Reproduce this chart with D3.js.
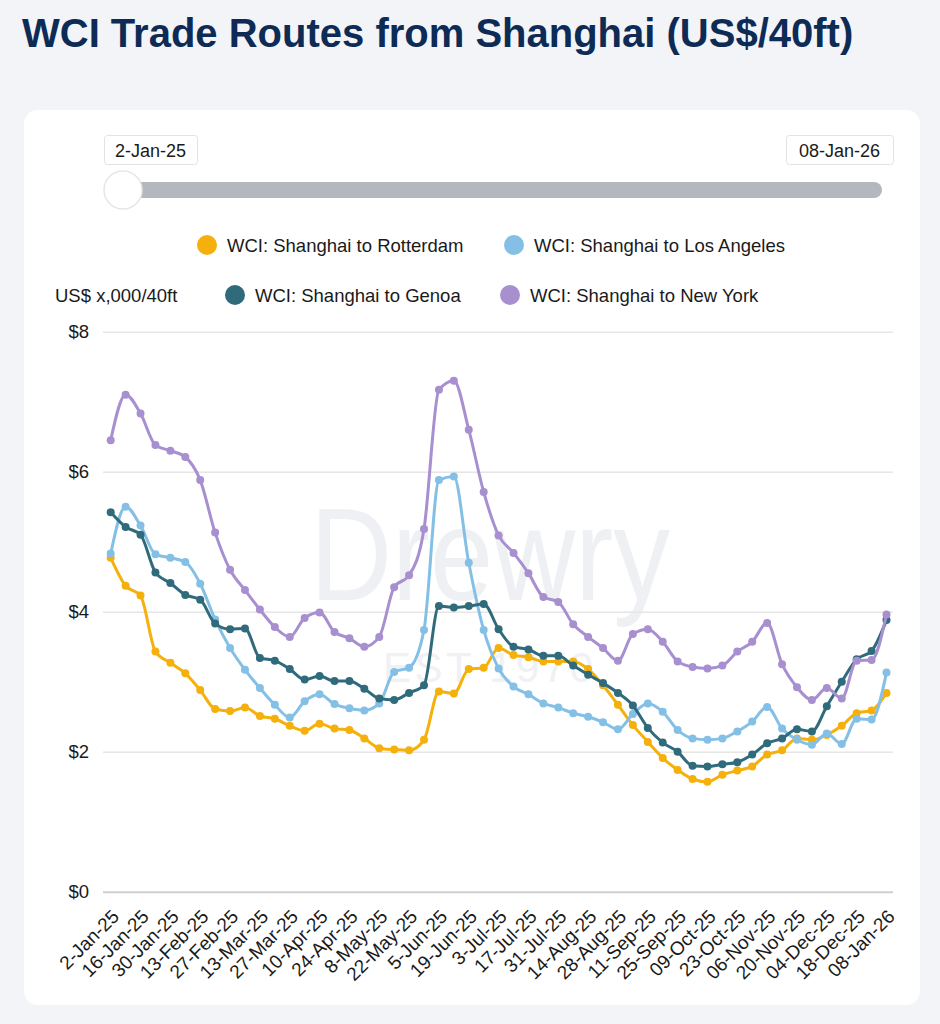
<!DOCTYPE html>
<html>
<head>
<meta charset="utf-8">
<script src="https://cdn.jsdelivr.net/npm/d3@7"></script>
<style>
  html, body { margin: 0; padding: 0; background: #f3f4f8; }
  svg text { font-family: "Liberation Sans", Arial, sans-serif; }
</style>
</head>
<body>
<div id="chart"></div>
<script>
// weekly WCI dates (no index published in the 1-Jan-26 week)
var dates = ["2-Jan-25","9-Jan-25","16-Jan-25","23-Jan-25","30-Jan-25","6-Feb-25","13-Feb-25","20-Feb-25",
  "27-Feb-25","6-Mar-25","13-Mar-25","20-Mar-25","27-Mar-25","3-Apr-25","10-Apr-25","17-Apr-25","24-Apr-25",
  "1-May-25","8-May-25","15-May-25","22-May-25","29-May-25","5-Jun-25","12-Jun-25","19-Jun-25","26-Jun-25",
  "3-Jul-25","10-Jul-25","17-Jul-25","24-Jul-25","31-Jul-25","7-Aug-25","14-Aug-25","21-Aug-25","28-Aug-25",
  "4-Sep-25","11-Sep-25","18-Sep-25","25-Sep-25","02-Oct-25","09-Oct-25","16-Oct-25","23-Oct-25","30-Oct-25",
  "06-Nov-25","13-Nov-25","20-Nov-25","27-Nov-25","04-Dec-25","11-Dec-25","18-Dec-25","25-Dec-25","08-Jan-26"];

// US$ thousand per 40ft
var rotterdam = [4.77,4.37,4.23,3.43,3.27,3.12,2.88,2.61,2.58,2.63,2.51,2.47,2.37,2.30,2.40,2.33,2.31,2.19,2.05,2.03,
  2.02,2.17,2.86,2.83,3.18,3.20,3.48,3.38,3.35,3.29,3.29,3.29,3.18,2.95,2.67,2.38,2.14,1.91,1.74,1.61,1.57,1.67,1.73,
  1.79,1.96,2.02,2.19,2.17,2.24,2.37,2.55,2.59,2.84];
var losAngeles = [4.83,5.50,5.23,4.82,4.77,4.71,4.40,3.89,3.48,3.17,2.91,2.67,2.49,2.72,2.82,2.68,2.62,2.59,2.69,3.14,
  3.20,3.74,5.88,5.93,4.70,3.74,3.19,2.93,2.82,2.69,2.63,2.55,2.50,2.42,2.32,2.54,2.69,2.57,2.31,2.19,2.17,2.19,2.29,
  2.43,2.64,2.33,2.17,2.10,2.26,2.11,2.47,2.46,3.13];
var genoa = [5.42,5.21,5.10,4.56,4.41,4.24,4.17,3.83,3.75,3.76,3.34,3.30,3.18,3.03,3.08,3.01,3.01,2.90,2.76,2.74,
  2.84,2.95,4.08,4.06,4.08,4.11,3.75,3.50,3.46,3.37,3.37,3.23,3.10,2.98,2.84,2.66,2.34,2.13,2.00,1.80,1.79,1.82,1.85,
  1.96,2.12,2.19,2.32,2.29,2.65,3.00,3.32,3.44,3.88];
var newYork = [6.45,7.10,6.83,6.38,6.30,6.21,5.88,5.13,4.60,4.31,4.03,3.78,3.64,3.91,3.99,3.71,3.62,3.50,3.64,4.35,
  4.52,5.18,7.17,7.30,6.60,5.71,5.09,4.84,4.55,4.21,4.14,3.82,3.64,3.48,3.30,3.68,3.75,3.57,3.29,3.21,3.19,3.23,3.43,
  3.57,3.84,3.25,2.92,2.74,2.91,2.76,3.30,3.31,3.96];

var seriesNames = ["WCI: Shanghai to Rotterdam", "WCI: Shanghai to Los Angeles", "WCI: Shanghai to Genoa", "WCI: Shanghai to New York"];
var seriesColors = ["#f5b00c", "#84c0e6", "#306b7c", "#a78fd0"];
var yTicks = [0, 2, 4, 6, 8];

var series = [rotterdam, losAngeles, genoa, newYork].map(function(v, k) {
    return {name: seriesNames[k], color: seriesColors[k], values: v};
});

var width = 940, height = 1024;

var svg = d3.select("#chart").append("svg")
    .attr("width", width)
    .attr("height", height);

svg.append("text")
    .attr("x", 22).attr("y", 47)
    .attr("fill", "#0d2b55")
    .attr("font-size", 40)
    .attr("font-weight", "bold")
    .text("WCI Trade Routes from Shanghai (US$/40ft)");

// card
svg.append("rect")
    .attr("x", 24).attr("y", 110)
    .attr("width", 896).attr("height", 895)
    .attr("rx", 14)
    .attr("fill", "#ffffff");

// range slider (decorative)
var slider = svg.append("g");
slider.append("rect")
    .attr("x", 110).attr("y", 182)
    .attr("width", 772).attr("height", 16)
    .attr("rx", 8)
    .attr("fill", "#b2b8be");
[{x: 104, w: 93, label: dates[0]}, {x: 786, w: 107, label: dates[dates.length - 1]}].forEach(function(b) {
    slider.append("rect")
        .attr("x", b.x + 0.5).attr("y", 135.5)
        .attr("width", b.w).attr("height", 29)
        .attr("rx", 3)
        .attr("fill", "#fff")
        .attr("stroke", "#e3e3e3");
    slider.append("text")
        .attr("x", b.x + b.w / 2).attr("y", 157)
        .attr("text-anchor", "middle")
        .attr("font-size", 18)
        .attr("fill", "#1a1a1a")
        .text(b.label);
});
slider.append("circle")
    .attr("cx", 123).attr("cy", 190).attr("r", 19)
    .attr("fill", "#fff")
    .attr("stroke", "#e6e6e9")
    .attr("stroke-width", 1.5);

// legend
var legendPos = [{x: 207, y: 245}, {x: 514, y: 245}, {x: 235, y: 295}, {x: 510, y: 295}];
var legend = svg.append("g").selectAll("g").data(series).enter().append("g")
    .attr("transform", function(d, k) { return "translate(" + legendPos[k].x + "," + legendPos[k].y + ")"; });
legend.append("circle").attr("r", 10).attr("fill", function(d) { return d.color; });
legend.append("text")
    .attr("x", 20).attr("y", 6.5)
    .attr("font-size", 18.5)
    .attr("fill", "#1a1a1a")
    .text(function(d) { return d.name; });

svg.append("text")
    .attr("x", 55).attr("y", 301.5)
    .attr("font-size", 18.5)
    .attr("fill", "#1a1a1a")
    .text("US$ x,000/40ft");

// watermark
svg.append("text")
    .attr("x", 490).attr("y", 600)
    .attr("text-anchor", "middle")
    .attr("font-size", 132)
    .attr("textLength", 360)
    .attr("lengthAdjust", "spacingAndGlyphs")
    .attr("fill", "#eef0f4")
    .text("Drewry");
svg.append("text")
    .attr("x", 488).attr("y", 682)
    .attr("text-anchor", "middle")
    .attr("font-size", 42)
    .attr("textLength", 210)
    .attr("lengthAdjust", "spacing")
    .attr("fill", "#eff1f5")
    .text("EST 1970");

var x = d3.scalePoint()
    .domain(dates)
    .range([110.7, 886.5]);

var y = d3.scaleLinear()
    .domain([0, 8])
    .range([891.7, 331.7]);

// y axis + grid
var yAxis = d3.axisLeft(y)
    .tickValues(yTicks)
    .tickSize(-790)
    .tickPadding(14)
    .tickFormat(function(d) { return "$" + d; });
var gy = svg.append("g").attr("transform", "translate(103,0)").call(yAxis);
gy.select(".domain").remove();
gy.selectAll(".tick line")
    .attr("stroke", function(d) { return d === 0 ? "#cfcfcf" : "#e6e6e6"; })
    .attr("stroke-width", function(d) { return d === 0 ? 2 : 1.5; });
gy.selectAll(".tick text")
    .attr("font-size", 18.5)
    .attr("fill", "#1a1a1a");

// x axis, every second week labelled
var xAxis = d3.axisBottom(x)
    .tickValues(dates.filter(function(d, k) { return k % 2 === 0; }))
    .tickSize(0);
var gx = svg.append("g").attr("transform", "translate(0,891.7)").call(xAxis);
gx.select(".domain").remove();
gx.selectAll(".tick text")
    .attr("x", 0).attr("y", 0).attr("dy", 0)
    .attr("text-anchor", "end")
    .attr("transform", "translate(9,26) rotate(-45)")
    .attr("font-size", 19)
    .attr("fill", "#1a1a1a");

// lines
var line = d3.line()
    .x(function(d, k) { return x(dates[k]); })
    .y(function(d) { return y(d); })
    .curve(d3.curveMonotoneX);

var sg = svg.append("g").selectAll("g").data(series).enter().append("g");
sg.append("path")
    .attr("d", function(d) { return line(d.values); })
    .attr("fill", "none")
    .attr("stroke", function(d) { return d.color; })
    .attr("stroke-width", 3)
    .attr("stroke-linejoin", "round");
sg.each(function(s) {
    d3.select(this).selectAll("circle").data(s.values).enter().append("circle")
        .attr("cx", function(d, k) { return x(dates[k]); })
        .attr("cy", function(d) { return y(d); })
        .attr("r", 4)
        .attr("fill", s.color);
});
</script>
</body>
</html>
